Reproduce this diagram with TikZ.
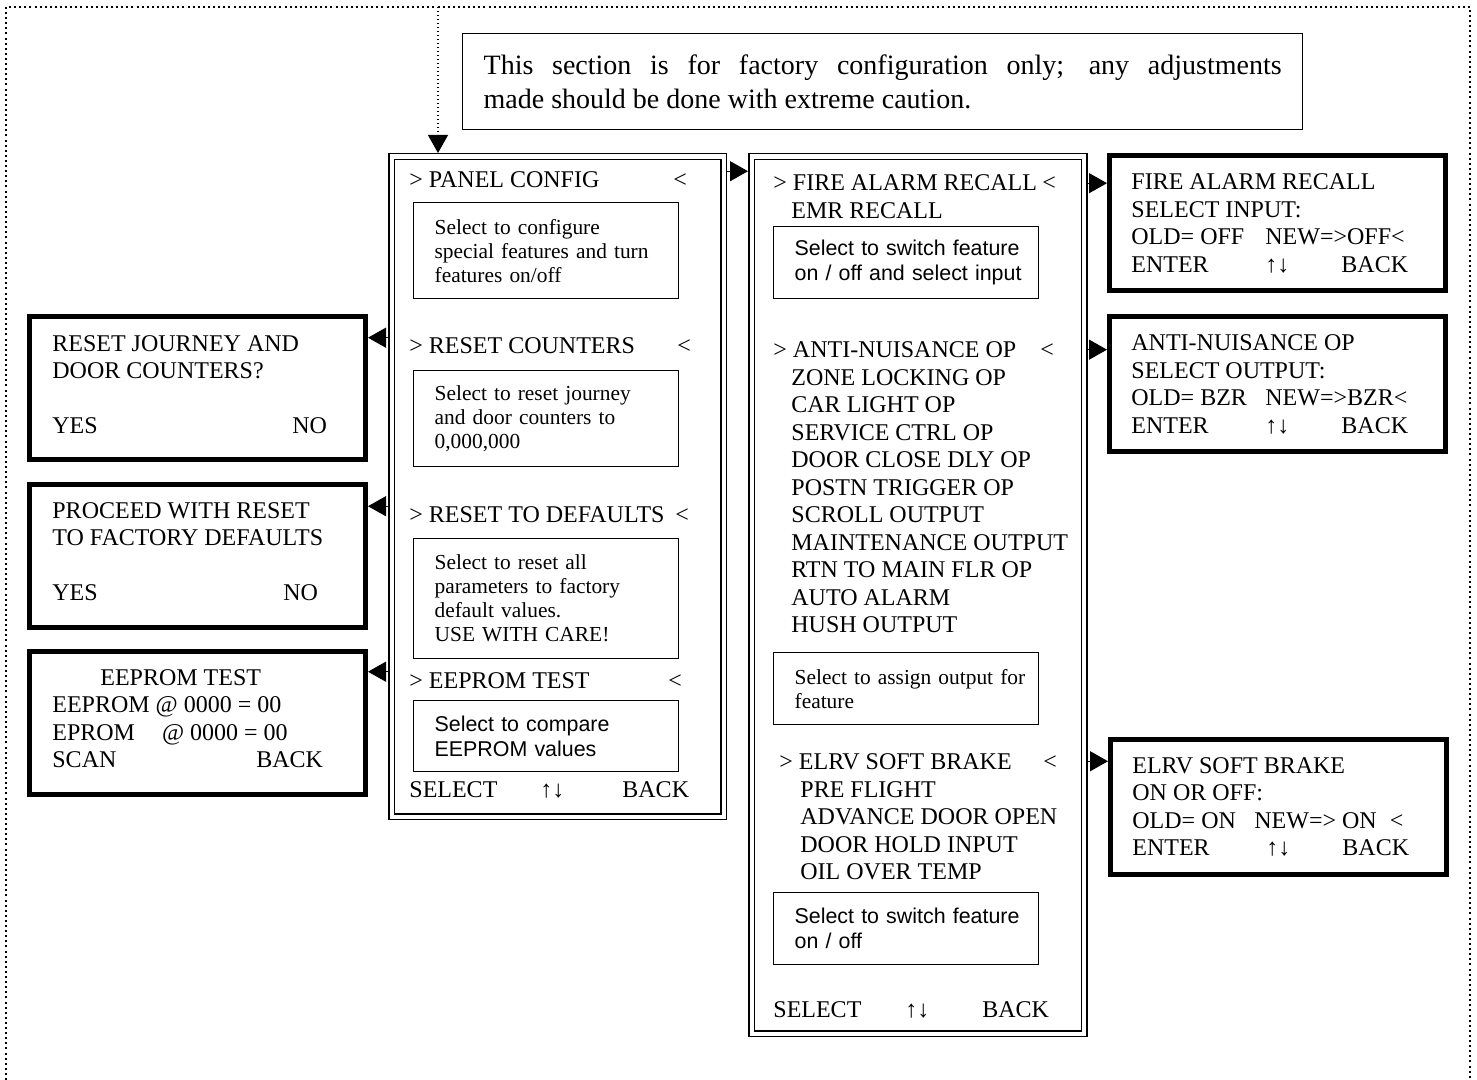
\documentclass[tikz,border=0pt]{standalone}
\usepackage{fontspec}
\setmainfont{Liberation Serif}
\setsansfont{Liberation Sans}
\usepackage{tikz}
\usetikzlibrary{calc, arrows.meta}
\newcommand{\hinttext}[1]{\leftskip=10.5pt\relax#1\par}

\begin{document}
\begin{tikzpicture}[x=0.5pt, y=-0.5pt]
\tikzstyle{frame}=[line width=1pt, dash pattern=on 1pt off 1.55pt]
\tikzstyle{ptr}=[line width=0.6pt, dash pattern=on 0.6pt off 1.4pt, -{Triangle[length=9pt,width=10pt]}]
\tikzstyle{arr}=[line width=0.6pt, -{Triangle[length=9pt,width=10pt]}]
\tikzstyle{dbox}=[draw, double, double distance=2.2pt, line width=0.75pt, outer sep=1.85pt, inner sep=0pt, anchor=north west]
\tikzstyle{screen}=[draw, line width=2.3pt, minimum width=168.2pt, inner sep=0pt, anchor=north west]
\tikzstyle{hint}=[draw, line width=0.65pt, text width=132.5pt, inner xsep=0pt, inner ysep=0pt, align=left, anchor=north west, font=\fontsize{10.7}{12}\selectfont]
\tikzstyle{shint}=[hint, font=\sffamily\fontsize{10.7}{12.5}\selectfont]
\tikzstyle{item}=[inner sep=0pt, anchor=base west, font=\fontsize{12}{13.75}\selectfont]
\tikzstyle{items}=[inner sep=0pt, anchor=north west, align=left, font=\fontsize{12}{13.75}\selectfont]
\tikzstyle{note}=[draw, line width=0.65pt, text width=399pt, inner xsep=10.5pt, inner ysep=0pt, minimum height=48pt, align=justify, anchor=north west, font=\fontsize{14}{17}\selectfont]
\useasboundingbox (0,0) rectangle (1477,1080);
\draw[frame] (6,1080) -- (6,7) -- (1470,7) -- (1470,1080);
\coordinate (entry) at (438,7);

\node[note] (warn) at (462,33) {This section is for factory configuration only; any adjustments\linebreak made should be done with extreme caution.};

% panel config menu
\node[dbox, minimum width=166pt, minimum height=330pt] (panel) at (388,153) {};
\node[item] (pcfg) at (409,187.5) {\makebox[132pt][l]{> PANEL CONFIG}<};
\node[hint, minimum height=48pt] (cfgh) at (413,202) {\hinttext{Select to configure\\special features and turn\\features on/off}};
\node[item] (rcnt) at (409,354) {\makebox[134pt][l]{> RESET COUNTERS}<};
\node[hint, minimum height=48pt] (cnth) at (413,370) {\hinttext{Select to reset journey\\and door counters to\\0,000,000}};
\node[item] (rdef) at (409,522.5) {\makebox[133pt][l]{> RESET TO DEFAULTS}<};
\node[hint, minimum height=60pt] (defh) at (413,538) {\hinttext{Select to reset all\\parameters to factory\\default values.\\USE WITH CARE!}};
\node[item] (etst) at (409,688) {\makebox[129.5pt][l]{> EEPROM TEST}<};
\node[shint, minimum height=35.5pt] (tsth) at (413,700) {\hinttext{Select to compare\\EEPROM values}};
\node[item] (psel) at (409,797) {\makebox[65.5pt][l]{SELECT}\makebox[41pt][l]{↑↓}BACK};

% feature menu
\node[dbox, minimum width=166.25pt, minimum height=438.5pt] (menu) at (748,153) {};
\node[item] (fire) at (773,191) {\makebox[134.5pt][l]{> FIRE ALARM RECALL}<};
\node[item] (emr) at (791,219) {EMR RECALL};
\node[shint, minimum height=36pt] (fireh) at (773,226) {\hinttext{Select to switch feature\\on / off and select input}};
\node[item] (anti) at (773,357.5) {\makebox[133.5pt][l]{> ANTI-NUISANCE OP}<};
\node[items] (outs) at (791,369) {ZONE LOCKING OP\\CAR LIGHT OP\\SERVICE CTRL OP\\DOOR CLOSE DLY OP\\POSTN TRIGGER OP\\SCROLL OUTPUT\\MAINTENANCE OUTPUT\\RTN TO MAIN FLR OP\\AUTO ALARM\\HUSH OUTPUT};
\node[hint, minimum height=36pt] (antih) at (773,652) {\hinttext{Select to assign output for\\feature}};
\node[item] (elrv) at (779,769) {\makebox[132pt][l]{> ELRV SOFT BRAKE}<};
\node[items] (ins) at (800,781) {PRE FLIGHT\\ADVANCE DOOR OPEN\\DOOR HOLD INPUT\\OIL OVER TEMP};
\node[shint, minimum height=36pt] (elrvh) at (773,892) {\hinttext{Select to switch feature\\on / off}};
\node[item] (msel) at (773,1017) {\makebox[66pt][l]{SELECT}\makebox[38.5pt][l]{↑↓}BACK};

% screens left
\node[screen, minimum height=71.7pt] (l1) at (27,314) {};
\node[items] (l1t) at (52,335) {RESET JOURNEY AND\\DOOR COUNTERS?\\[13.75pt]\makebox[120pt][l]{YES}NO};
\node[screen, minimum height=71.7pt] (l2) at (27,482) {};
\node[items] (l2t) at (52,502) {PROCEED WITH RESET\\TO FACTORY DEFAULTS\\[13.75pt]\makebox[115.5pt][l]{YES}NO};
\node[screen, minimum height=71.7pt] (l3) at (27,649) {};
\node[items] (l3t) at (52,669) {\hspace*{24pt}EEPROM TEST\\EEPROM @ 0000 = 00\\EPROM\hspace{13.5pt}@ 0000 = 00\\\makebox[102pt][l]{SCAN}BACK};

% screens right
\node[screen, minimum height=67.7pt] (r1) at (1107,153) {};
\node[items] (r1t) at (1131,173.5) {FIRE ALARM RECALL\\SELECT INPUT:\\\makebox[67pt][l]{OLD= OFF}NEW=>OFF<\\\makebox[67pt][l]{ENTER}\makebox[38pt][l]{↑↓}BACK};
\node[screen, minimum height=67.7pt] (r2) at (1107,314) {};
\node[items] (r2t) at (1131,334.5) {ANTI-NUISANCE OP\\SELECT OUTPUT:\\\makebox[67pt][l]{OLD= BZR}NEW=>BZR<\\\makebox[67pt][l]{ENTER}\makebox[38pt][l]{↑↓}BACK};
\node[screen, minimum height=67.7pt] (r3) at (1108,737) {};
\node[items] (r3t) at (1132,757) {ELRV SOFT BRAKE\\ON OR OFF:\\\makebox[61pt][l]{OLD= ON}NEW=> ON\hspace{6.5pt}<\\\makebox[67pt][l]{ENTER}\makebox[38pt][l]{↑↓}BACK};

% connectors
\draw[ptr] (entry) -- (entry |- panel.north);
\draw[arr] (panel.east |- pcfg.north) -- (menu.west |- pcfg.north);
\foreach \s/\t in {rcnt/l1, rdef/l2, etst/l3}
  \draw[arr] (panel.west |- \s.north) -- (\t.east |- \s.north);
\foreach \s/\t in {fire/r1, anti/r2, elrv/r3}
  \draw[arr] (menu.east |- \s) -- (\t.west |- \s);
\end{tikzpicture}
\end{document}
